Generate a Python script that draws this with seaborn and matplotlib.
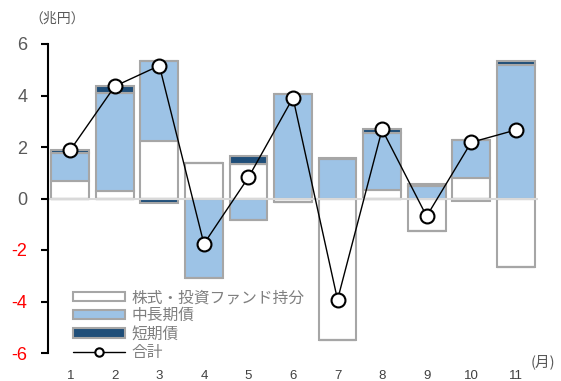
import numpy as np
import matplotlib
matplotlib.use("Agg")
import matplotlib.pyplot as plt
from matplotlib.patches import Patch
from matplotlib.lines import Line2D
import seaborn as sns

# 月別の内訳（兆円）
months = ["1", "2", "3", "4", "5", "6", "7", "8", "9", "10", "11"]
equity = [0.67, 0.28, 2.25, 1.36, 1.35, -0.13, -5.48, 0.32, -1.27, 0.80, -2.67]
midlong = [1.08, 3.82, 3.08, -3.10, -0.82, 4.04, 1.52, 2.23, 0.50, 1.46, 5.20]
short = [0.13, 0.26, -0.17, 0.0, 0.29, 0.0, 0.04, 0.13, 0.08, -0.08, 0.13]
total = [1.88, 4.36, 5.16, -1.76, 0.82, 3.91, -3.93, 2.68, -0.69, 2.18, 2.66]

series_labels = ["株式・投資ファンド持分", "中長期債", "短期債", "合計"]
yticks = [-6, -4, -2, 0, 2, 4, 6]

sns.set_style("white")
plt.rcParams["font.family"] = ["Liberation Sans", "Noto Sans CJK JP"]

fig = plt.figure(figsize=(5.61, 3.81), dpi=100)
ax = fig.add_axes([48 / 561, 28 / 381, 490 / 561, 309 / 381])

edge = "#A6A6A6"
colors = ["#FFFFFF", "#9DC3E6", "#1F4E79"]

# 正負を分けて積み上げる
pos_base = np.zeros(len(months))
neg_base = np.zeros(len(months))
for vals, col in zip([equity, midlong, short], colors):
    v = np.asarray(vals, dtype=float)
    pos = np.where(v > 0, v, 0.0)
    neg = np.where(v < 0, v, 0.0)
    sns.barplot(x=months, y=pos, bottom=pos_base, color=col, saturation=1,
                width=0.85, edgecolor=edge, linewidth=1.5, ax=ax, zorder=1)
    sns.barplot(x=months, y=neg, bottom=neg_base, color=col, saturation=1,
                width=0.85, edgecolor=edge, linewidth=1.5, ax=ax, zorder=1)
    pos_base += pos
    neg_base += neg

ax.axhline(0, color="#D9D9D9", lw=1.5, zorder=2)

sns.lineplot(x=np.arange(len(months)), y=total, color="black", lw=1,
             marker="o", markersize=10, markerfacecolor="white",
             markeredgecolor="black", markeredgewidth=1.5, ax=ax, zorder=3)

ax.set_xlim(-0.5, len(months) - 0.5)
ax.set_ylim(-6, 6)
ax.set_yticks(yticks)
ax.set_yticklabels([str(t) for t in yticks], fontsize=13)
for lab, t in zip(ax.get_yticklabels(), yticks):
    lab.set_color("#FF0000" if t < 0 else "#595959")
ax.set_xticks(range(len(months)))
ax.set_xticklabels(months, fontsize=9.5, color="#404040")
ax.tick_params(axis="y", direction="out", length=5, width=1.5, color="black",
               pad=10, left=True)
ax.tick_params(axis="x", length=0, pad=12)
ax.set_xlabel("")
ax.set_ylabel("")

for s in ["top", "right", "bottom"]:
    ax.spines[s].set_visible(False)
ax.spines["left"].set_color("black")
ax.spines["left"].set_linewidth(1.5)

fig.text(29 / 561, 1 - 19 / 381, "（兆円）", fontsize=10, color="#595959",
         family=["Noto Sans CJK JP"], va="center", ha="left")
fig.text(531 / 561, 1 - 362 / 381, "(月)", fontsize=10.5, color="#595959",
         family=["Noto Sans CJK JP"], va="center", ha="left")

handles = [
    Patch(facecolor=colors[0], edgecolor=edge, lw=1.5),
    Patch(facecolor=colors[1], edgecolor=edge, lw=1.5),
    Patch(facecolor=colors[2], edgecolor=edge, lw=1.5),
    Line2D([], [], color="black", lw=1, marker="o", markersize=6,
           markerfacecolor="white", markeredgecolor="black", markeredgewidth=1.5),
]
leg = ax.legend(handles, series_labels, loc="upper left",
                bbox_to_anchor=(73 / 561, 1 - 289 / 381),
                bbox_transform=fig.transFigure, frameon=False,
                prop={"family": ["Noto Sans CJK JP"], "size": 11.3},
                handlelength=3.3, handleheight=0.55, labelspacing=0.08,
                handletextpad=0.45, borderpad=0, borderaxespad=0)
for t in leg.get_texts():
    t.set_color("#7F7F7F")

fig.savefig("out.png", dpi=100)
